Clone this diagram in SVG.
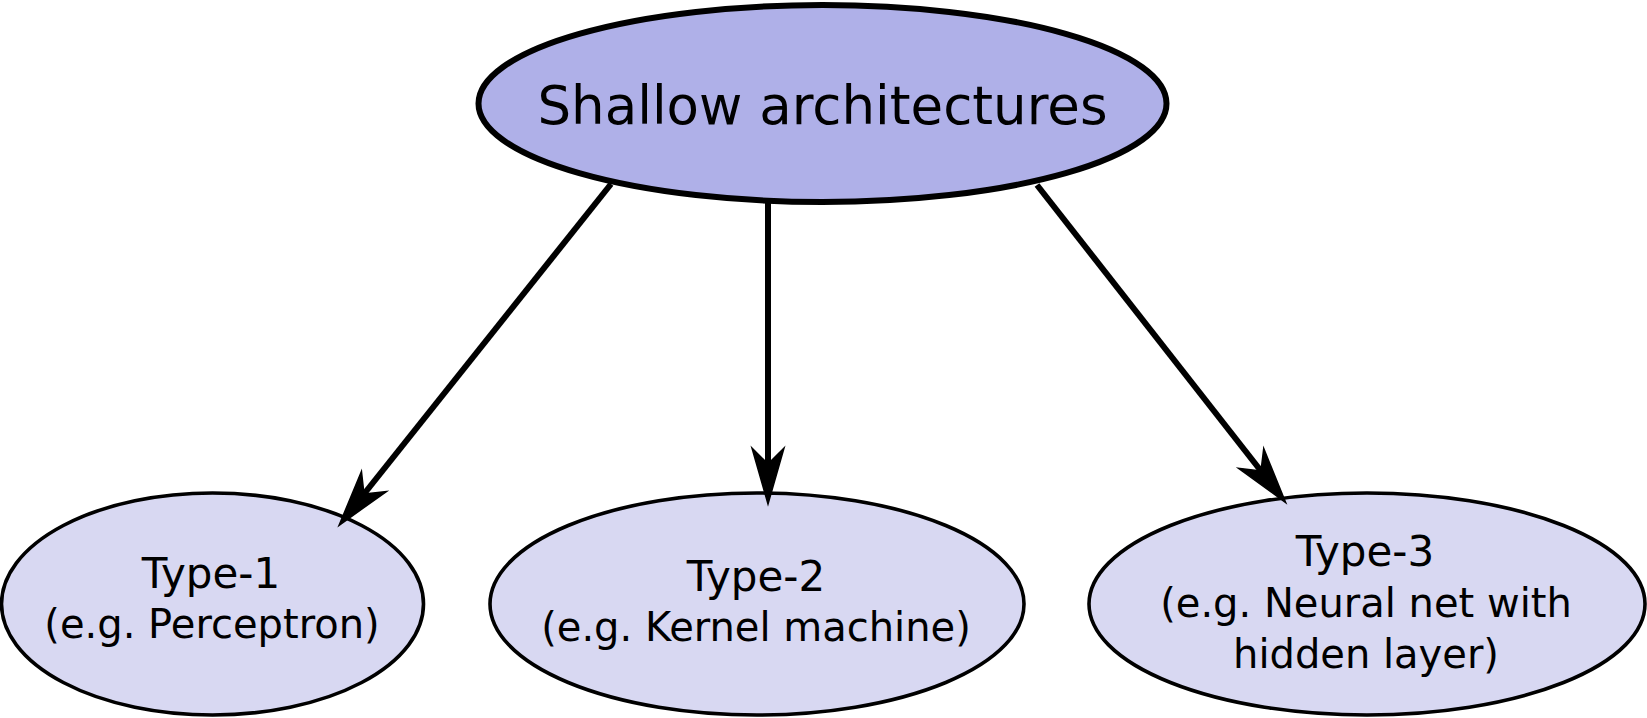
<svg xmlns="http://www.w3.org/2000/svg" width="1647" height="718" viewBox="0 0 1647 718">
<defs>
<style>
.top{fill:#afb0e8;stroke:#000;stroke-width:6}
.sub{fill:#d8d8f2;stroke:#000;stroke-width:3.6}
.t{font-family:"DejaVu Sans",sans-serif;fill:#000;text-anchor:middle}
.big{font-size:53px}
.mid{font-size:40px}
.ttl{font-size:42px}
.edge{fill:none;stroke:#000;stroke-width:6}
</style>
<marker id="arr" markerUnits="userSpaceOnUse" orient="auto" refX="0" refY="0" markerWidth="80" markerHeight="50" viewBox="-20 -20 80 40" overflow="visible">
<path d="M40,0 L-16,-16 L0,0 L-16,16 Z" fill="#000" stroke="#000" stroke-width="1.5" stroke-linejoin="miter"/>
</marker>
</defs>
<g id="node-shallow">
<ellipse class="top" cx="822.5" cy="103.5" rx="344" ry="98.5"/>
<text class="t big" x="822.5" y="124">Shallow architectures</text>
</g>
<g id="node-type1">
<ellipse class="sub" cx="212.5" cy="604" rx="211" ry="111"/>
<text class="t ttl" x="211" y="588">Type-1</text>
<text class="t mid" x="212" y="638">(e.g. Perceptron)</text>
</g>
<g id="node-type2">
<ellipse class="sub" cx="757" cy="604" rx="267" ry="111"/>
<text class="t ttl" x="756" y="591">Type-2</text>
<text class="t mid" x="756" y="641">(e.g. Kernel machine)</text>
</g>
<g id="node-type3">
<ellipse class="sub" cx="1367" cy="604" rx="278" ry="111"/>
<text class="t ttl" x="1365" y="566">Type-3</text>
<text class="t mid" x="1366" y="617">(e.g. Neural net with</text>
<text class="t mid" x="1366" y="668">hidden layer)</text>
</g>
<g id="connectors">
<path class="edge" d="M611,184 L364,494" marker-end="url(#arr)"/>
<path class="edge" d="M768,203 L768,464" marker-end="url(#arr)"/>
<path class="edge" d="M1037,185 L1261,471" marker-end="url(#arr)"/>
</g>
</svg>
